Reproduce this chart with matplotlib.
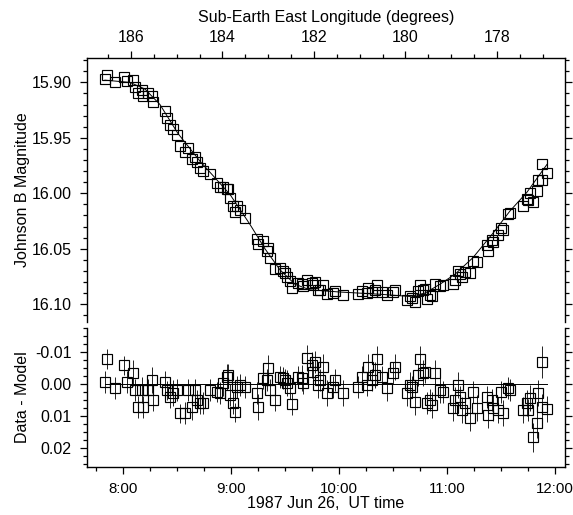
import matplotlib
matplotlib.use("Agg")
import matplotlib.pyplot as plt
from matplotlib.ticker import MultipleLocator, FixedLocator, FuncFormatter
import numpy as np

plt.rcParams['font.family'] = ['Liberation Sans', 'DejaVu Sans']
plt.rcParams['font.size'] = 11.5

# ----------------------------------------------------------------------------------------------------------------------
# dados (tempo UT em horas decimais)
times = [7.833, 7.852, 7.926, 8.009, 8.037, 8.093, 8.111, 8.139, 8.176, 8.185,
         8.231, 8.269, 8.278, 8.389, 8.407, 8.435, 8.463, 8.500, 8.528, 8.574,
         8.602, 8.639, 8.667, 8.685, 8.713, 8.741, 8.806, 8.870, 8.898, 8.926,
         8.963, 8.972, 8.991, 9.019, 9.037, 9.056, 9.083, 9.130, 9.241, 9.250,
         9.296, 9.333, 9.343, 9.361, 9.407, 9.454, 9.481, 9.500, 9.519, 9.546,
         9.565, 9.620, 9.657, 9.667, 9.704, 9.750, 9.759, 9.778, 9.806, 9.824,
         9.852, 9.889, 9.944, 9.963, 10.037, 10.176, 10.213, 10.259, 10.269, 10.306,
         10.333, 10.352, 10.398, 10.444, 10.500, 10.519, 10.630, 10.657, 10.676, 10.704,
         10.731, 10.750, 10.778, 10.796, 10.815, 10.843, 10.861, 10.889, 10.935, 10.963,
         11.056, 11.074, 11.102, 11.120, 11.139, 11.167, 11.213, 11.241, 11.278, 11.370,
         11.380, 11.417, 11.426, 11.472, 11.500, 11.519, 11.565, 11.583, 11.704, 11.741,
         11.750, 11.769, 11.796, 11.833, 11.843, 11.880, 11.880, 11.926]

mag_b = [15.897, 15.893, 15.900, 15.895, 15.899, 15.898, 15.904, 15.910, 15.907, 15.912,
         15.910, 15.912, 15.918, 15.926, 15.932, 15.938, 15.942, 15.947, 15.957, 15.963,
         15.959, 15.969, 15.967, 15.972, 15.977, 15.980, 15.983, 15.991, 15.994, 15.994,
         15.996, 15.996, 16.004, 16.011, 16.017, 16.011, 16.015, 16.022, 16.041, 16.046,
         16.043, 16.052, 16.049, 16.058, 16.068, 16.067, 16.070, 16.072, 16.075, 16.079,
         16.085, 16.081, 16.082, 16.084, 16.078, 16.081, 16.083, 16.080, 16.087, 16.087,
         16.083, 16.091, 16.090, 16.088, 16.092, 16.091, 16.088, 16.090, 16.085, 16.089,
         16.087, 16.083, 16.089, 16.092, 16.089, 16.087, 16.096, 16.093, 16.094, 16.098,
         16.088, 16.083, 16.087, 16.086, 16.095, 16.092, 16.093, 16.082, 16.084, 16.083,
         16.082, 16.078, 16.070, 16.073, 16.075, 16.071, 16.072, 16.061, 16.062, 16.047,
         16.052, 16.042, 16.044, 16.038, 16.031, 16.033, 16.019, 16.018, 16.011, 16.005,
         16.006, 16.000, 16.008, 15.998, 15.988, 15.974, 15.988, 15.982]

resid = [-0.0006, -0.0078, 0.0013, -0.0059, -0.0006, -0.0034, 0.0019, 0.0072, 0.0019, 0.0072,
         0.0019, -0.0013, 0.0050, -0.0006, 0.0019, 0.0041, 0.0028, 0.0019, 0.0091, 0.0091,
         0.0019, 0.0072, 0.0019, 0.0050, 0.0059, 0.0059, 0.0019, 0.0025, 0.0028, -0.0003,
         -0.0022, -0.0028, 0.0034, 0.0059, 0.0088, 0.0009, 0.0003, 0.0009, 0.0028, 0.0072,
         -0.0019, -0.0013, -0.0050, 0.0019, 0.0050, -0.0022, -0.0019, -0.0013, -0.0003, 0.0013,
         0.0063, -0.0022, -0.0019, -0.0003, -0.0081, -0.0059, -0.0038, -0.0069, 0.0003, -0.0013,
         -0.0053, 0.0028, 0.0009, -0.0013, 0.0028, 0.0009, -0.0022, 0.0003, -0.0053, -0.0013,
         -0.0028, -0.0078, -0.0022, 0.0013, -0.0034, -0.0053, 0.0028, 0.0003, 0.0009, 0.0056,
         -0.0028, -0.0078, -0.0034, -0.0038, 0.0059, 0.0050, 0.0066, -0.0034, 0.0019, 0.0025,
         0.0075, 0.0050, 0.0003, 0.0041, 0.0081, 0.0059, 0.0106, 0.0025, 0.0075, 0.0041,
         0.0097, 0.0050, 0.0075, 0.0081, 0.0025, 0.0091, 0.0013, 0.0019, 0.0081, 0.0059,
         0.0081, 0.0044, 0.0166, 0.0122, 0.0028, -0.0069, 0.0072, 0.0078]

resid_err = [0.0035, 0.0030, 0.0035, 0.0030, 0.0035, 0.0040, 0.0035, 0.0035, 0.0040, 0.0035,
             0.0035, 0.0040, 0.0035, 0.0035, 0.0030, 0.0035, 0.0040, 0.0035, 0.0030, 0.0035,
             0.0035, 0.0040, 0.0035, 0.0030, 0.0035, 0.0035, 0.0035, 0.0030, 0.0035, 0.0040,
             0.0040, 0.0035, 0.0035, 0.0035, 0.0030, 0.0035, 0.0035, 0.0035, 0.0035, 0.0040,
             0.0035, 0.0035, 0.0040, 0.0035, 0.0035, 0.0035, 0.0035, 0.0035, 0.0040, 0.0035,
             0.0035, 0.0035, 0.0040, 0.0035, 0.0040, 0.0040, 0.0035, 0.0035, 0.0040, 0.0035,
             0.0040, 0.0040, 0.0035, 0.0035, 0.0040, 0.0035, 0.0035, 0.0035, 0.0040, 0.0035,
             0.0040, 0.0040, 0.0035, 0.0040, 0.0035, 0.0040, 0.0040, 0.0040, 0.0035, 0.0040,
             0.0035, 0.0040, 0.0040, 0.0035, 0.0035, 0.0035, 0.0040, 0.0040, 0.0040, 0.0035,
             0.0040, 0.0040, 0.0040, 0.0035, 0.0040, 0.0035, 0.0040, 0.0035, 0.0040, 0.0035,
             0.0040, 0.0035, 0.0040, 0.0040, 0.0035, 0.0040, 0.0035, 0.0035, 0.0040, 0.0040,
             0.0035, 0.0040, 0.0045, 0.0045, 0.0040, 0.0050, 0.0040, 0.0040]

# curva do modelo
model_t = [7.833, 8.065, 8.204, 8.343, 8.509, 8.713, 8.852, 8.991, 9.176, 9.315, 9.454, 9.593,
           9.731, 10.009, 10.380, 10.657, 10.796, 10.935, 11.074, 11.241, 11.426, 11.583, 11.741, 11.926]
model_mag = [15.898, 15.900, 15.906, 15.920, 15.946, 15.971, 15.986, 16.001, 16.028, 16.050, 16.069, 16.082,
             16.087, 16.089, 16.091, 16.093, 16.090, 16.082, 16.073, 16.058, 16.036, 16.016, 15.999, 15.974]

# longitude sub-terrestre: 186.175 graus as 8:00 UT, 2.3607 graus por hora
lon_0 = 186.175
lon_rate = 2.3607
lon_ticks = [186, 184, 182, 180, 178]
hour_ticks = [8, 9, 10, 11, 12]

# ----------------------------------------------------------------------------------------------------------------------
def t2lon(t):
    return lon_0 - lon_rate * (np.asarray(t) - 8.0)


def lon2t(lon):
    return 8.0 + (lon_0 - np.asarray(lon)) / lon_rate


def estilo_eixo(ax):
    ax.tick_params(which='both', direction='out', width=0.9, labelsize=11.5, pad=6)
    ax.tick_params(which='major', length=5)
    ax.tick_params(which='minor', length=3)
    for s in ax.spines.values():
        s.set_linewidth(1.0)
# ----------------------------------------------------------------------------------------------------------------------

fig = plt.figure(figsize=(5.73, 5.15), dpi=100)
ax1 = fig.add_axes([0.1518, 0.3748, 0.8342, 0.5126])
ax2 = fig.add_axes([0.1518, 0.0932, 0.8342, 0.2699])

xmin, xmax = 7.667, 12.093

# painel superior
ax1.plot(model_t, model_mag, color='k', lw=0.7)
ax1.plot(times, mag_b, 's', mfc='none', mec='k', ms=6.5, mew=0.85)
ax1.set_xlim(xmin, xmax)
ax1.set_ylim(16.116, 15.878)
ax1.yaxis.set_major_locator(MultipleLocator(0.05))
ax1.yaxis.set_minor_locator(MultipleLocator(0.01))
ax1.yaxis.set_major_formatter(FuncFormatter(lambda v, p: "%.2f" % v))
ax1.spines['bottom'].set_visible(False)
ax1.spines['top'].set_visible(False)
ax1.set_xticks([])
estilo_eixo(ax1)
ax1.tick_params(axis='y', which='both', left=True, right=True, labelleft=True)
ax1.set_ylabel("Johnson B Magnitude")
ax1.yaxis.set_label_coords(-0.12, 0.5)

sec = ax1.secondary_xaxis('top', functions=(t2lon, lon2t))
sec.xaxis.set_major_locator(FixedLocator(lon_ticks))
sec.xaxis.set_minor_locator(MultipleLocator(0.5))
sec.xaxis.set_major_formatter(FuncFormatter(lambda v, p: "%d" % round(v)))
estilo_eixo(sec)
sec.tick_params(pad=4)
sec.set_xlabel("Sub-Earth East Longitude (degrees)", labelpad=6)

# painel inferior (residuos)
ax2.plot([times[0], times[-1]], [0, 0], color='k', lw=0.7)
ax2.errorbar(times, resid, yerr=resid_err, fmt='s', mfc='none', mec='k', ms=6.5, mew=0.85,
             ecolor='k', elinewidth=0.6, capsize=0)
ax2.set_xlim(xmin, xmax)
ax2.set_ylim(0.0259, -0.0175)
ax2.yaxis.set_major_locator(FixedLocator([-0.01, 0.0, 0.01, 0.02]))
ax2.yaxis.set_minor_locator(MultipleLocator(0.0025))
ax2.yaxis.set_major_formatter(FuncFormatter(lambda v, p: "%.2f" % v if abs(v) > 1e-9 else "0.00"))
ax2.xaxis.set_major_locator(FixedLocator(hour_ticks))
ax2.xaxis.set_minor_locator(MultipleLocator(0.25))
ax2.xaxis.set_major_formatter(FuncFormatter(lambda v, p: "%d:00" % round(v)))
ax2.spines['top'].set_visible(False)
estilo_eixo(ax2)
ax2.tick_params(axis='x', labelsize=10.8)
ax2.tick_params(axis='y', which='both', left=True, right=True)
ax2.set_ylabel("Data - Model")
ax2.yaxis.set_label_coords(-0.12, 0.5)
ax2.set_xlabel("1987 Jun 26,  UT time", labelpad=0)

fig.savefig("out.png", dpi=100)
